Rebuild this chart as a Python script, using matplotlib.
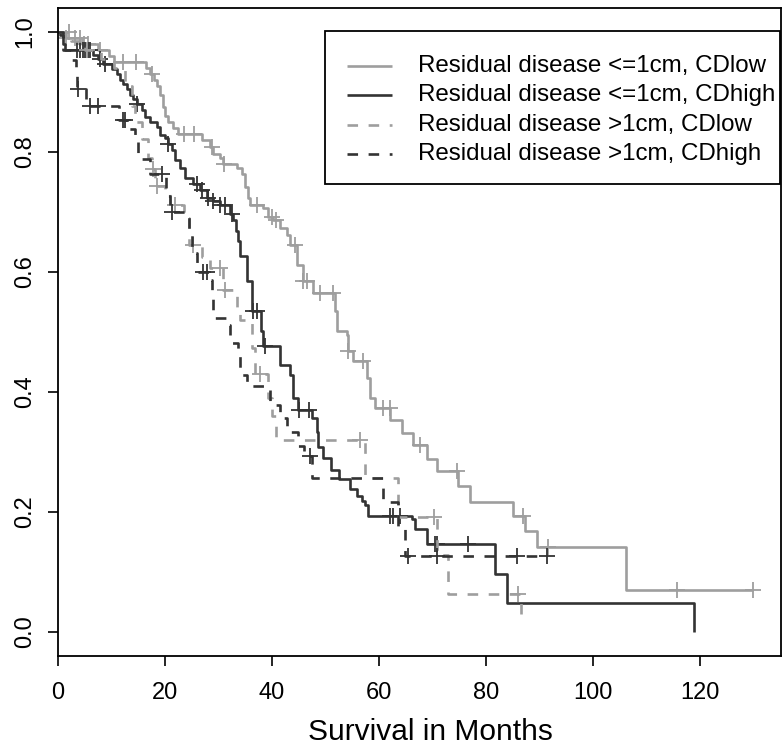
import numpy as np
import matplotlib
matplotlib.use("Agg")
import matplotlib.pyplot as plt
from matplotlib.lines import Line2D
from matplotlib.patches import Rectangle

plt.rcParams['font.family'] = ['Liberation Sans', 'DejaVu Sans']

# ---------------- data ----------------
labels = ["Residual disease <=1cm, CDlow",
          "Residual disease <=1cm, CDhigh",
          "Residual disease >1cm, CDlow",
          "Residual disease >1cm, CDhigh"]

# Curve 1: <=1cm, CDlow
t1 = [0, 1.5, 4.5, 7.5, 9.5, 10.5, 16.5, 17.2, 18.0, 18.5, 19.1, 19.6, 20.0, 20.6, 21.5,
      22.4, 27.0, 28.4, 29.0, 30.3, 30.8, 33.5, 34.4, 35.0, 35.5, 35.9, 38.3, 39.3, 40.2,
      41.5, 42.8, 43.4, 44.7, 45.8, 47.7, 51.8, 52.1, 54.0, 54.2, 55.1, 57.8, 58.3, 59.3,
      62.1, 64.3, 66.4, 69.0, 70.8, 74.8, 77.0, 85.0, 87.3, 89.5, 106.2]
s1 = [1.0, 0.99, 0.98, 0.97, 0.96, 0.95, 0.94, 0.93, 0.92, 0.91, 0.895, 0.875, 0.86, 0.85, 0.84,
      0.83, 0.82, 0.808, 0.796, 0.79, 0.78, 0.774, 0.763, 0.741, 0.724, 0.712, 0.707, 0.691, 0.686,
      0.674, 0.662, 0.645, 0.612, 0.585, 0.565, 0.535, 0.502, 0.495, 0.468, 0.452, 0.423, 0.39, 0.373,
      0.353, 0.331, 0.311, 0.289, 0.268, 0.244, 0.217, 0.194, 0.169, 0.142, 0.07]
end1 = 130.0
c1 = [1.5, 3.2, 4.2, 4.8, 5.7, 7.9, 12.2, 14.5, 17.5, 23.5, 25.5, 28.8, 31.0, 37.2, 40.0,
      40.8, 44.3, 45.8, 46.5, 49.0, 51.4, 54.2, 57.0, 60.7, 62.0, 67.7, 74.6, 86.9, 91.6,
      115.7, 130.0]

# Curve 2: <=1cm, CDhigh
t2 = [0, 0.4, 0.9, 1.3, 6.5, 7.5, 8.4, 10.1, 11.0, 11.6, 12.1, 12.9, 13.5, 14.0, 14.8, 15.7,
      16.3, 17.2, 18.5, 19.1, 20.0, 20.6, 21.3, 21.9, 22.8, 23.7, 25.2, 26.5, 27.9, 29.0, 30.3,
      32.1, 32.7, 33.2, 33.6, 34.0, 35.4, 36.3, 38.0, 38.3, 41.5, 43.4, 43.9, 44.9, 47.5, 48.4,
      48.6, 49.5, 51.0, 52.5, 54.6, 55.9, 56.8, 57.4, 57.9, 66.2, 66.7, 69.0, 81.7, 83.9, 118.9]
s2 = [1.0, 0.995, 0.98, 0.97, 0.962, 0.955, 0.946, 0.938, 0.93, 0.92, 0.913, 0.905, 0.895, 0.888,
      0.88, 0.87, 0.858, 0.85, 0.841, 0.829, 0.824, 0.813, 0.803, 0.786, 0.774, 0.757, 0.746, 0.736,
      0.724, 0.719, 0.711, 0.696, 0.686, 0.669, 0.652, 0.627, 0.585, 0.535, 0.502, 0.477, 0.445,
      0.428, 0.39, 0.37, 0.356, 0.334, 0.309, 0.29, 0.27, 0.255, 0.239, 0.226, 0.219, 0.211, 0.194,
      0.189, 0.172, 0.147, 0.097, 0.048, 0.0]
end2 = 118.9
c2 = [3.6, 4.1, 4.7, 5.0, 5.6, 6.0, 7.9, 8.8, 14.8, 20.6, 26.0, 27.0, 28.0, 29.0, 30.3, 31.2,
      32.5, 36.4, 37.2, 38.7, 45.0, 47.0, 62.0, 62.6, 63.9, 70.5, 70.8, 76.6]

# Curve 3: >1cm, CDlow
t3 = [0, 2.5, 5.0, 8.0, 10.5, 12.5, 13.8, 14.4, 15.7, 16.8, 17.5, 18.2, 20.0, 21.0, 23.5, 24.5,
      27.0, 28.4, 30.8, 33.5, 34.0, 36.3, 36.8, 39.3, 40.0, 40.8, 57.4, 63.6, 70.8, 72.9, 86.5]
s3 = [1.0, 0.985, 0.97, 0.955, 0.94, 0.91, 0.877, 0.85, 0.821, 0.79, 0.771, 0.744, 0.73, 0.712,
      0.69, 0.645, 0.625, 0.607, 0.57, 0.54, 0.52, 0.473, 0.43, 0.39, 0.36, 0.32, 0.256, 0.192,
      0.128, 0.064, 0.013]
end3 = 86.5
c3 = [2.0, 5.5, 17.8, 18.5, 21.9, 25.2, 30.3, 31.2, 37.7, 56.4, 70.3, 86.0]

# Curve 4: >1cm, CDhigh
t4 = [0, 1.0, 2.5, 3.3, 3.6, 5.3, 11.4, 12.9, 14.4, 15.0, 17.2, 20.2, 21.0, 24.5, 25.0, 26.0,
      28.4, 28.8, 29.0, 31.8, 32.2, 33.6, 34.0, 35.3, 39.6, 41.5, 42.8, 44.9, 46.0, 47.5, 60.7,
      63.5, 64.9]
s4 = [1.0, 0.97, 0.953, 0.93, 0.905, 0.877, 0.853, 0.838, 0.816, 0.788, 0.763, 0.727, 0.70,
      0.662, 0.632, 0.60, 0.587, 0.557, 0.523, 0.512, 0.482, 0.462, 0.428, 0.41, 0.378, 0.356,
      0.334, 0.31, 0.294, 0.256, 0.217, 0.172, 0.127]
end4 = 91.4
c4 = [3.8, 6.0, 7.5, 12.1, 12.5, 19.4, 21.3, 27.1, 27.9, 47.1, 65.4, 70.8, 85.8, 91.4]

curves = [(t1, s1, end1, c1), (t2, s2, end2, c2), (t3, s3, end3, c3), (t4, s4, end4, c4)]

# ---------------- styles ----------------
LIGHT = '#9e9e9e'
DARK = '#333333'
colors = [LIGHT, DARK, LIGHT, DARK]
styles = ['-', '-', (0, (4, 4)), (0, (4, 4))]
LW = 1.9

W, H, DPI = 783, 749, 100
fig = plt.figure(figsize=(W / DPI, H / DPI), dpi=DPI)
L, R, T, B = 58, 781, 8, 656
ax = fig.add_axes([L / W, 1 - B / H, (R - L) / W, (B - T) / H])


def value_at(times, surv, t):
    idx = np.searchsorted(np.asarray(times), t, side='right') - 1
    return np.asarray(surv)[idx]


for (t, s, end, c), col, ls in zip(curves, colors, styles):
    tt = list(t)
    ss = list(s)
    if end > tt[-1]:
        tt.append(end)
        ss.append(ss[-1])
    ax.plot(tt, ss, drawstyle='steps-post', color=col, lw=LW, linestyle=ls,
            solid_capstyle='butt', dash_capstyle='butt')
    cv = value_at(t, s, np.asarray(c))
    ax.plot(c, cv, linestyle='none', marker='+', color=col, ms=11, mew=1.3)

ax.set_xlim(0, 135.2)
ax.set_ylim(-0.04, 1.04)
ax.set_xticks([0, 20, 40, 60, 80, 100, 120])
ax.set_yticks([0.0, 0.2, 0.4, 0.6, 0.8, 1.0])
ax.set_yticklabels(['0.0', '0.2', '0.4', '0.6', '0.8', '1.0'], rotation=90, va='center')
ax.tick_params(axis='both', direction='out', length=7, width=1.2, labelsize=17,
               colors='black')
ax.tick_params(axis='x', pad=12)
ax.tick_params(axis='y', pad=9)
for sp in ax.spines.values():
    sp.set_linewidth(1.3)
    sp.set_color('black')
ax.set_xlabel('Survival in Months', fontsize=21.5)
ax.xaxis.set_label_coords((430 - L) / (R - L), (B - 718) / (B - T))


# ---------------- legend (drawn in R style) ----------------
def ax_xy(px, py):
    return (px - L) / (R - L), (B - py) / (B - T)


x0, y0 = ax_xy(325, 184)
x1, y1 = ax_xy(780, 31)
ax.add_patch(Rectangle((x0, y0), x1 - x0, y1 - y0, transform=ax.transAxes,
                       facecolor='white', edgecolor='black', lw=1.3, zorder=5))
rows = [66, 95.5, 125, 154.5]
for lab, col, ls, py in zip(labels, colors, styles, rows):
    hx0, hy = ax_xy(347, py)
    hx1, _ = ax_xy(392, py)
    ax.add_line(Line2D([hx0, hx1], [hy, hy], transform=ax.transAxes, color=col, lw=LW,
                       linestyle=ls, zorder=6, solid_capstyle='butt', dash_capstyle='butt'))
    tx, _ = ax_xy(418, py)
    ax.text(tx, hy, lab, transform=ax.transAxes, fontsize=17.4, va='center', ha='left',
            color='black', zorder=6)

fig.savefig('out.png', dpi=DPI)
